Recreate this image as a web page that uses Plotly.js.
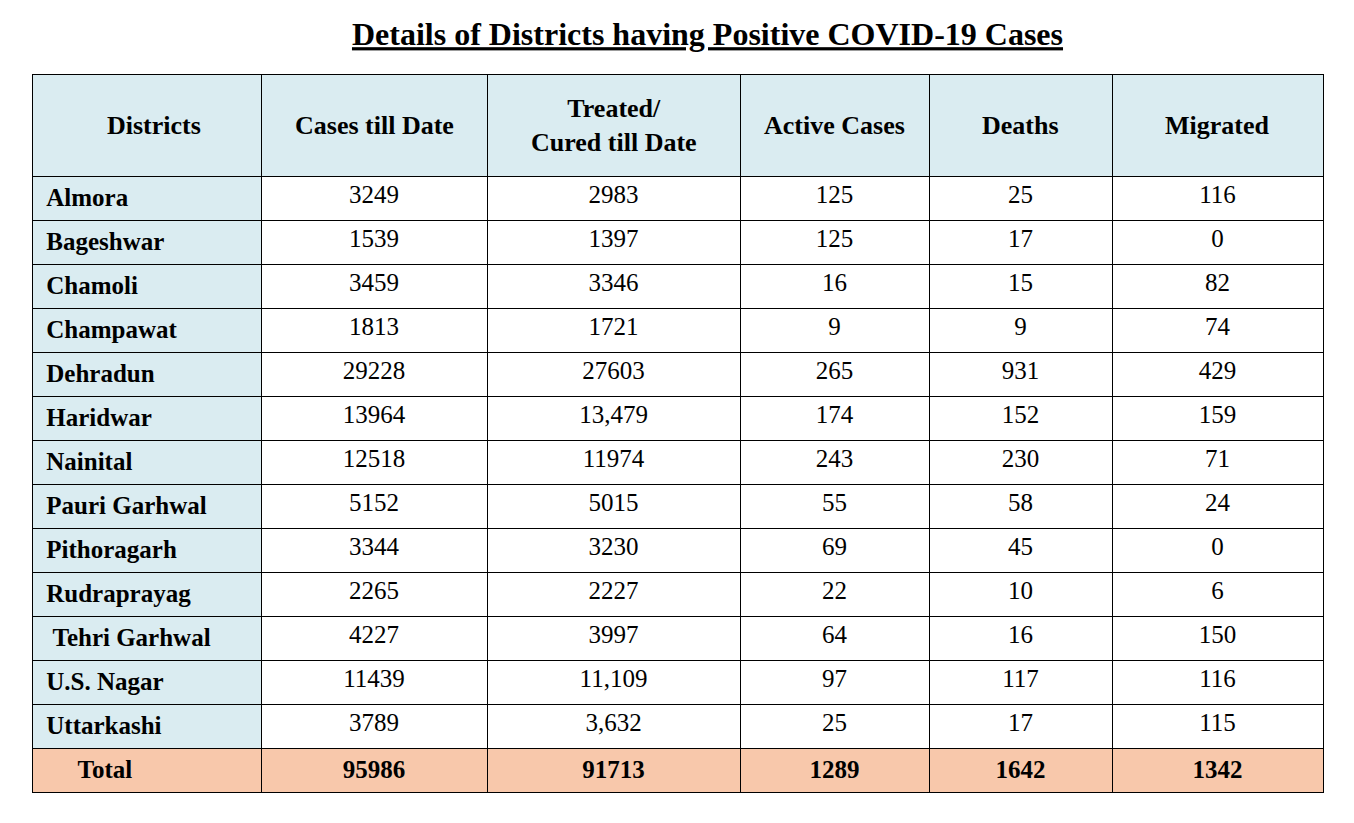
<!DOCTYPE html>
<html><head><meta charset="utf-8">
<script src="https://cdn.plot.ly/plotly-3.0.1.min.js"></script>
<style>html,body{margin:0;padding:0;background:#fff}</style>
</head><body>
<div id="chart" style="width:1354px;height:823px"></div>
<script>
var headers = ["Districts", "Cases till Date", "Treated/<br>Cured till Date", "Active Cases", "Deaths", "Migrated"];
var districts = ["Almora","Bageshwar","Chamoli","Champawat","Dehradun","Haridwar","Nainital","Pauri Garhwal","Pithoragarh","Rudraprayag"," Tehri Garhwal","U.S. Nagar","Uttarkashi","     Total"];
var cases = ["3249","1539","3459","1813","29228","13964","12518","5152","3344","2265","4227","11439","3789","95986"];
var treated = ["2983","1397","3346","1721","27603","13,479","11974","5015","3230","2227","3997","11,109","3,632","91713"];
var active = ["125","125","16","9","265","174","243","55","69","22","64","97","25","1289"];
var deaths = ["25","17","15","9","931","152","230","58","45","10","16","117","17","1642"];
var migrated = ["116","0","82","74","429","159","71","24","0","6","150","116","115","1342"];

var FONT = "Liberation Serif";
var blue = "#DAECF1", peach = "#F8C8AB", white = "#FFFFFF";
var n = districts.length;
var colWidths = [229, 226, 253, 189, 183, 211];
var X0 = 32, X1 = 1323, W = 1354, H = 823, TOPPX = 74, HEADH = 102, ROWH = 44;

function colFill(first) {
  var a = [];
  for (var i = 0; i < n; i++) a.push(i === n - 1 ? peach : (first ? blue : white));
  return a;
}
function fmt(col, boldAll) {
  return col.map(function (v, i) { return (boldAll || i === n - 1) ? "<b>" + v + "</b>" : v; });
}
var firstCol = districts.map(function (d) { return "\u00A0" + d.replace(/ /g, "\u00A0"); });
var values = [fmt(firstCol, true), fmt(cases), fmt(treated), fmt(active), fmt(deaths), fmt(migrated)];

var trace = {
  type: "table",
  domain: {x: [X0/W, X1/W], y: [0, (H-TOPPX)/H]},
  columnwidth: colWidths,
  header: {
    values: headers.map(function () { return ""; }),
    height: HEADH,
    fill: {color: blue},
    line: {color: "#000", width: 1},
    font: {family: FONT, size: 24, color: "#000"}
  },
  cells: {
    values: values,
    align: ["left", "center", "center", "center", "center", "center"],
    height: ROWH,
    fill: {color: [colFill(true), colFill(false), colFill(false), colFill(false), colFill(false), colFill(false)]},
    line: {color: "#000", width: 1},
    font: {family: FONT, size: 25, color: "#000"}
  }
};

var totalW = colWidths.reduce(function (a, b) { return a + b; }, 0);
var headShift = [7, 0, 0, 0, 0, 0];
var annotations = [];
var acc = 0;
headers.forEach(function (h, i) {
  var cx = X0 + (acc + colWidths[i] / 2) * (X1 - X0) / totalW + headShift[i];
  acc += colWidths[i];
  annotations.push({
    text: "<b>" + h + "</b>", xref: "paper", yref: "paper",
    x: cx / W, y: 1 - (TOPPX + HEADH / 2) / H, xanchor: "center", yanchor: "middle",
    showarrow: false, align: "center",
    font: {family: FONT, size: 26, color: "#000"}
  });
});

var layout = {
  width: W, height: H,
  margin: {l: 0, r: 0, t: 0, b: 0},
  paper_bgcolor: "#fff",
  annotations: annotations,
  title: {
    text: "<b><u>Details of Districts having Positive COVID-19 Cases</u></b>",
    x: 707.5/W, xanchor: "center", y: 1 - 34/H, yanchor: "middle",
    font: {family: FONT, size: 32, color: "#000"}
  }
};
Plotly.newPlot("chart", [trace], layout, {displayModeBar: false, staticPlot: true});
</script>
</body></html>
